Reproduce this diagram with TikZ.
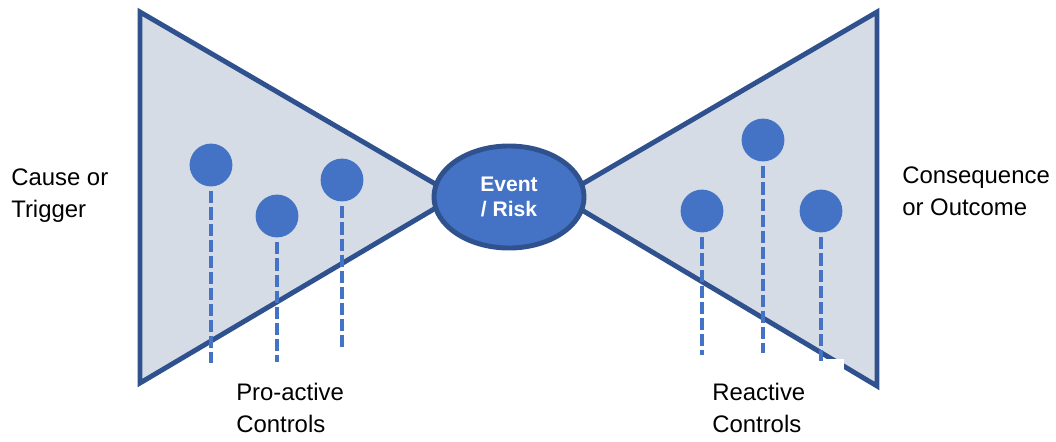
\documentclass[tikz,border=0pt]{standalone}
\usepackage{fontspec}
\setmainfont{Liberation Sans}
\usetikzlibrary{shapes.geometric}
\definecolor{bowline}{HTML}{2F528F}
\definecolor{bowfill}{HTML}{D6DCE5}
\definecolor{ctrlblue}{HTML}{4472C4}

\begin{document}
\begin{tikzpicture}[x=0.025cm,y=-0.025cm,
    wing/.style={draw=bowline,fill=bowfill,line width=3.5pt},
    riskevent/.style={ellipse,draw=bowline,fill=ctrlblue,line width=3.5pt,minimum width=3.75cm,minimum height=2.55cm,inner sep=0pt,text=white,align=center,font=\fontsize{15}{18}\selectfont\bfseries},
    ctrl/.style={circle,fill=ctrlblue,minimum size=1.07cm,inner sep=0pt},
    stem/.style={draw=ctrlblue,line width=2.8pt,dash pattern=on 0.3cm off 0.1cm,shorten <=0.12cm},
    caption/.style={anchor=north west,inner sep=0pt,align=left,font=\fontsize{17}{22.5}\selectfont}]
        \useasboundingbox (0,0) rectangle (1056,441);

        %the two wings of the bow-tie
        \filldraw[wing] (140,12) -- (456,196) -- (140,383) -- cycle;
        \filldraw[wing] (877,12) -- (560,197) -- (877,386) -- cycle;

        %the event in the middle
        \node[riskevent] (risk) at (509,197) {Event\\/ Risk};

        %label box of the reactive side
        \node[caption,fill=white,inner xsep=0.3cm,inner ysep=0.6cm,text width=3cm] (reactive) at (700,359) {Reactive\\Controls};

        %controls with their dashed stems
        \foreach \cname/\cx/\cy/\ylow in {pa/211/165/363,pb/277/216/362,pc/342/180/349,ra/702/211/355,rb/763/140/353,rc/821/211/361}{
          \node[ctrl] (\cname) at (\cx,\cy) {};
          \coordinate (\cname-end) at (\cx,\ylow);
          \draw[stem] (\cname) -- (\cname-end);
        }

        %side labels
        \node[caption] (cause) at (11,169) {Cause or\\Trigger};
        \node[caption] (outcome) at (902,167) {Consequence\\or Outcome};
        \node[caption] (proactive) at (236,383) {Pro-active\\Controls};
      \end{tikzpicture}
\end{document}
